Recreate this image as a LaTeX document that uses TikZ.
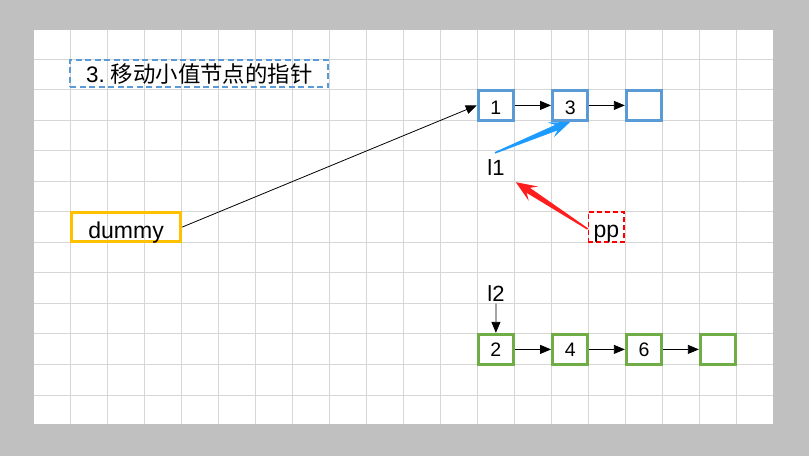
\documentclass[tikz,border=0pt]{standalone}
\usepackage{fontspec}
\setmainfont{Liberation Sans}
\newfontfamily\cjk{Noto Sans CJK SC}
\usetikzlibrary{arrows.meta,calc}
\definecolor{bgc}{HTML}{C0C0C0}
\definecolor{gridc}{HTML}{D6D6D6}
\definecolor{cblue}{HTML}{5B9BD5}
\definecolor{cgreen}{HTML}{70AD47}
\definecolor{corange}{HTML}{FFC000}
\definecolor{cred}{HTML}{FF0000}
\definecolor{arrblue}{HTML}{1E9BFF}
\definecolor{arrred}{HTML}{FF1E1E}
\frenchspacing
\begin{document}
\begin{tikzpicture}[x=1pt,y=-1pt,
  lbl/.style={font=\fontsize{22}{24}\selectfont, inner sep=0pt},
  cell/.style={draw, line width=3.3pt, minimum width=35pt, minimum height=29.8pt, inner sep=0pt, text depth=0pt, font=\fontsize{19.5}{22}\selectfont},
  bluecell/.style={cell, draw=cblue, text height=17.4pt},
  greencell/.style={cell, draw=cgreen, text height=15pt},
  link/.style={-{Triangle[length=11pt,width=9pt]}, line width=0.8pt, black},
  gridline/.style={draw=gridc, line width=1pt},
]
\useasboundingbox (0,0) rectangle (809,456);
\fill[bgc] (0,0) rectangle (809,456);
\fill[white] (34,30) rectangle (773,424);
\foreach \k in {1,...,19} \draw[gridline] ({33+37*\k},30) -- ({33+37*\k},424);
\foreach \k in {0,...,11} \draw[gridline] (34,{59+30.55*\k}) -- (773,{59+30.55*\k});

% title
\node[draw=cblue, dash pattern=on 6pt off 3.5pt, line width=2pt, minimum width=258pt, minimum height=27.6pt, inner sep=0pt, font=\fontsize{22.4}{24}\selectfont] (title) at (199.3,73.5) {\raisebox{-3pt}{3. {\cjk 移动小值节点的指针}}};

% top list
\node[bluecell] (b1) at (495.9,105.4) {1};
\node[bluecell] (b3) at (570.2,105.4) {3};
\node[bluecell] (b0) at (644,105.4) {};
\draw[link] (b1) -- (b3);
\draw[link] (b3) -- (b0);

% dummy
\node[draw=corange, line width=3.3pt, minimum width=108.8pt, minimum height=29pt, inner sep=0pt, text height=22.4pt, text depth=0pt, font=\fontsize{23}{26}\selectfont] (dummy) at (126.1,227.1) {dummy};
\draw[link] (dummy.east) -- (b1.west);

% l1 and pp
\node[lbl] (l1) at (496,168) {l1};
\node[draw=cred, dash pattern=on 5pt off 3pt, line width=1.6pt, minimum width=35.7pt, minimum height=30.4pt, inner sep=0pt, text height=21.6pt, text depth=0pt, font=\fontsize{23}{26}\selectfont] (pp) at (606.3,227) {pp};

% blue tapered arrow l1 -> 3
\coordinate (bs) at ($(l1.north)+(-1,-7)$);
\coordinate (bt) at ($(b3.south)+(0,0)$);
\coordinate (bn) at ($(bt)!15pt!(bs)$);
\coordinate (bh) at ($(bt)!21pt!(bs)$);
\fill[arrblue] ($(bs)!0.8pt!90:(bt)$) -- ($(bn)!3pt!90:(bt)$) -- ($(bh)!8pt!90:(bt)$) -- (bt)
  -- ($(bh)!8pt!-90:(bt)$) -- ($(bn)!3pt!-90:(bt)$) -- ($(bs)!0.8pt!-90:(bt)$) -- cycle;

% red tapered arrow pp -> l1
\coordinate (rs) at ($(pp.west)+(0,2)$);
\coordinate (rt) at ($(l1.south east)+(11,6)$);
\coordinate (rn) at ($(rt)!15pt!(rs)$);
\coordinate (rh) at ($(rt)!21pt!(rs)$);
\fill[arrred] ($(rs)!0.8pt!90:(rt)$) -- ($(rn)!3pt!90:(rt)$) -- ($(rh)!8.5pt!90:(rt)$) -- (rt)
  -- ($(rh)!8.5pt!-90:(rt)$) -- ($(rn)!3pt!-90:(rt)$) -- ($(rs)!0.8pt!-90:(rt)$) -- cycle;

% bottom list
\node[lbl] (l2) at (496,294) {l2};
\node[greencell] (g2) at (495.9,349.4) {2};
\node[greencell] (g4) at (570.2,349.4) {4};
\node[greencell] (g6) at (644,349.4) {6};
\node[greencell] (g0) at (718,349.4) {};
\draw[link] ($(l2.south)+(0,1.5)$) -- (g2.north);
\draw[link] (g2) -- (g4);
\draw[link] (g4) -- (g6);
\draw[link] (g6) -- (g0);
\end{tikzpicture}
\end{document}
